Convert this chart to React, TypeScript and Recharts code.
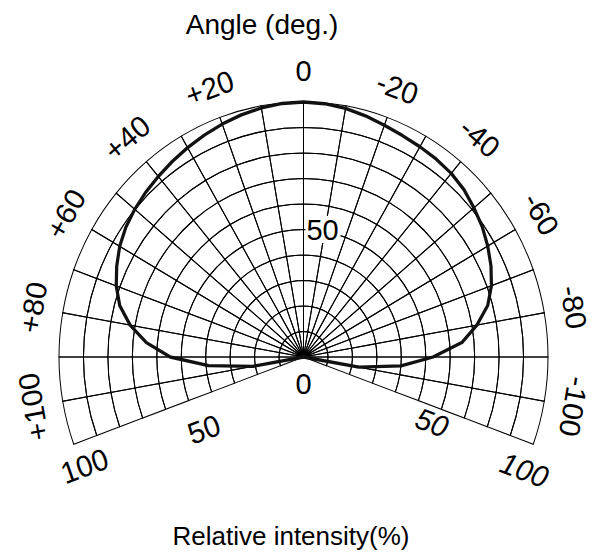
import { Pie, PieChart, PolarAngleAxis, PolarRadiusAxis, Radar, RadarChart } from 'recharts'

// angle in degrees, positive to the left of the optical axis
const angles = [
  -110, -105, -100, -95, -90, -85, -80, -75, -70, -65, -60, -55, -50, -45, -40, -35, -30, -25, -20, -15, -10, -5,
  0, 5, 10, 15, 20, 25, 30, 35, 40, 45, 50, 55, 60, 65, 70, 75, 80, 85, 90, 95, 100, 105, 110,
]
// relative intensity (%)
const intensity = [
  0, 0, 23, 40, 53, 65, 72, 78, 81.8, 84.6, 87, 89.2, 91, 92.8, 94, 94.7, 95.2, 95.8, 96.7, 97.9, 99, 99.7,
  100, 99.8, 99.2, 98.3, 97.2, 96, 94.8, 93.6, 92.4, 91.3, 90.1, 88.7, 86.8, 84.3, 81.5, 77.8, 72, 64.5, 54.5, 39, 21, 0, 0,
]
const angleTicks = [-100, -80, -60, -40, -20, 0, 20, 40, 60, 80, 100]
const spokeAngles = [-110, -100, -90, -80, -70, -60, -50, -40, -30, -20, -10, 0, 10, 20, 30, 40, 50, 60, 70, 80, 90, 100, 110]
const ringLevels = [10, 20, 30, 40, 50, 60, 70, 80, 90, 100]
const radiusTicks = [0, 50, 100]

const W = 604
const H = 556
const CX = 303.5
const CY = 357
const R = 244.5
const STRETCH = 1.043
const FONT = '"Liberation Sans", Arial, Helvetica, sans-serif'
const NUM_SIZE = 29

// hand placement of the scale labels under the two lower edges: [shift along edge, distance below edge]
const rightPlace: Record<number, [number, number]> = { 50: [20, 15], 100: [0, 26] }
const leftPlace: Record<number, [number, number]> = { 50: [-5, 31], 100: [-3, 23] }

const curveData = angles.map((angle, i) => ({ angle, intensity: intensity[i] }))
const sectorData = spokeAngles.slice(1).map((a, i) => ({ span: a - spokeAngles[i] }))

function AngleTick(props: any) {
  const { x, y, payload } = props
  const v = payload.value
  const text = v > 0 ? `+${v}` : String(v)
  return (
    <text
      x={x}
      y={y}
      textAnchor="middle"
      dominantBaseline="central"
      fontSize={NUM_SIZE}
      fontFamily={FONT}
      fill="#000"
      transform={`rotate(${-v} ${x} ${y})`}
    >
      {text}
    </text>
  )
}

function RadiusTick(props: any) {
  const { payload } = props
  const v = payload.value
  const r = payload.coordinate
  const common = { fontSize: NUM_SIZE, fontFamily: FONT, fill: '#000', textAnchor: 'middle' as const, dominantBaseline: 'central' as const }
  if (v === 0) {
    return (
      <text x={CX} y={CY + 25} {...common}>
        0
      </text>
    )
  }
  const cos = Math.cos((20 * Math.PI) / 180)
  const sin = Math.sin((20 * Math.PI) / 180)
  const [rs, ro] = rightPlace[v]
  const [ls, lo] = leftPlace[v]
  const rx = CX + (r + rs) * cos - ro * sin
  const ry = CY + (r + rs) * sin + ro * cos
  const lx = CX - (r + ls) * cos + lo * sin
  const ly = CY + (r + ls) * sin + lo * cos
  return (
    <g>
      <text x={rx} y={ry} {...common} fontStyle="italic" transform={`rotate(20 ${rx} ${ry})`}>
        {v}
      </text>
      <text x={lx} y={ly} {...common} transform={`rotate(-20 ${lx} ${ly})`}>
        {v}
      </text>
      {v === 50 && (
        <g>
          <rect x={CX + 2} y={CY - r - 13} width={35} height={26} fill="#fff" />
          <text x={CX + 3} y={CY - r} {...common} textAnchor="start">
            50
          </text>
        </g>
      )}
    </g>
  )
}

export default function App() {
  return (
    <div style={{ position: 'absolute', left: 0, top: 0, width: W, height: H, background: '#fff' }}>
      <div
        style={{
          position: 'absolute',
          left: 0,
          top: 0,
          width: W,
          height: H,
          transform: `scaleY(${STRETCH})`,
          transformOrigin: `${CX}px ${CY}px`,
        }}
      >
        <div style={{ position: 'absolute', left: 0, top: 0 }}>
          <PieChart width={W} height={H} margin={{ top: 0, right: 0, bottom: 0, left: 0 }}>
            {ringLevels.map((level) => (
              <Pie
                key={level}
                data={sectorData}
                dataKey="span"
                cx={CX}
                cy={CY}
                innerRadius={(R * (level - 10)) / 100}
                outerRadius={(R * level) / 100}
                startAngle={200}
                endAngle={-20}
                paddingAngle={0}
                fill="none"
                stroke="#000"
                strokeWidth={1}
                isAnimationActive={false}
              />
            ))}
          </PieChart>
        </div>
        <div style={{ position: 'absolute', left: 0, top: 0 }}>
          <RadarChart
            width={W}
            height={H}
            data={curveData}
            cx={CX}
            cy={CY}
            innerRadius={0}
            outerRadius={R}
            startAngle={-20}
            endAngle={200}
            margin={{ top: 0, right: 0, bottom: 0, left: 0 }}
          >
            <PolarAngleAxis
              dataKey="angle"
              type="number"
              domain={[-110, 110]}
              ticks={angleTicks}
              tick={AngleTick}
              tickSize={30}
              tickLine={false}
              axisLine={false}
            />
            <PolarRadiusAxis
              angle={-20}
              type="number"
              domain={[0, 100]}
              ticks={radiusTicks}
              tick={RadiusTick}
              axisLine={false}
            />
            <Radar
              dataKey="intensity"
              stroke="#111"
              strokeWidth={3.2}
              strokeLinejoin="round"
              fill="none"
              fillOpacity={0}
              dot={false}
              isAnimationActive={false}
            />
          </RadarChart>
        </div>
      </div>
      <div
        style={{
          position: 'absolute',
          left: 112,
          top: 10,
          width: 300,
          textAlign: 'center',
          fontFamily: FONT,
          fontSize: 28,
          lineHeight: '30px',
        }}
      >
        Angle (deg.)
      </div>
      <div
        style={{
          position: 'absolute',
          left: 141,
          top: 521,
          width: 300,
          textAlign: 'center',
          fontFamily: FONT,
          fontSize: 26,
          lineHeight: '30px',
        }}
      >
        Relative intensity(%)
      </div>
    </div>
  )
}
